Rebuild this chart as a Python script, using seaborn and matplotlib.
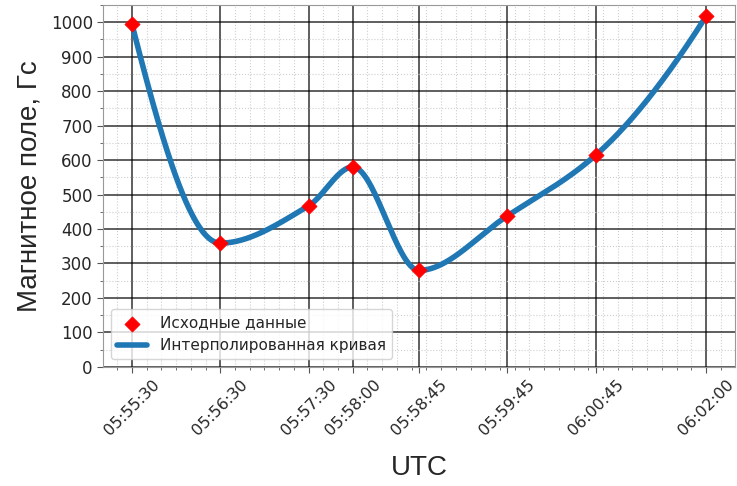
import numpy as np
import seaborn as sns
import matplotlib
matplotlib.use('Agg')
import matplotlib.pyplot as plt
from matplotlib.ticker import MultipleLocator

# Source data
times = ['05:55:30', '05:56:30', '05:57:30', '05:58:00', '05:58:45', '05:59:45', '06:00:45', '06:02:00']
field = [995, 359, 467, 580, 280, 438, 614, 1017]


def to_seconds(t):
    h, m, s = (int(v) for v in t.split(':'))
    return h * 3600 + m * 60 + s


# PCHIP (monotone piecewise cubic Hermite) through the source points
def pchip(x, y, xnew):
    x = np.asarray(x, float)
    y = np.asarray(y, float)
    h = np.diff(x)
    delta = np.diff(y) / h
    d = np.zeros_like(y)
    for k in range(1, len(x) - 1):
        if delta[k - 1] * delta[k] > 0:
            w1 = 2 * h[k] + h[k - 1]
            w2 = h[k] + 2 * h[k - 1]
            d[k] = (w1 + w2) / (w1 / delta[k - 1] + w2 / delta[k])

    def edge(h0, h1, m0, m1):
        dd = ((2 * h0 + h1) * m0 - h0 * m1) / (h0 + h1)
        if np.sign(dd) != np.sign(m0):
            dd = 0.0
        elif np.sign(m0) != np.sign(m1) and abs(dd) > abs(3 * m0):
            dd = 3 * m0
        return dd

    d[0] = edge(h[0], h[1], delta[0], delta[1])
    d[-1] = edge(h[-1], h[-2], delta[-1], delta[-2])

    idx = np.clip(np.searchsorted(x, xnew) - 1, 0, len(x) - 2)
    t = (xnew - x[idx]) / h[idx]
    h00 = 2 * t**3 - 3 * t**2 + 1
    h10 = t**3 - 2 * t**2 + t
    h01 = -2 * t**3 + 3 * t**2
    h11 = t**3 - t**2
    return h00 * y[idx] + h10 * h[idx] * d[idx] + h01 * y[idx + 1] + h11 * h[idx] * d[idx + 1]


secs = np.array([to_seconds(t) for t in times], float)
xs = secs - secs[0]
x_fine = np.linspace(xs[0], xs[-1], 500)
y_fine = pchip(xs, field, x_fine)

sns.set_style('white')
plt.rcParams['font.family'] = ['DejaVu Sans']

fig = plt.figure(figsize=(7.37, 4.86), dpi=100)
ax = fig.add_axes([0.140, 0.245, 0.857, 0.745])

sns.lineplot(x=x_fine, y=y_fine, ax=ax, color='#1f77b4', linewidth=4,
             label='Интерполированная кривая', zorder=3)
sns.scatterplot(x=xs, y=field, ax=ax, color='red', marker='D', s=60,
                edgecolor='red', linewidth=0.5, label='Исходные данные', zorder=4)

ax.set_xlim(xs[0] - 19.5, xs[-1] + 19.5)
ax.set_ylim(0, 1050)
ax.set_xticks(xs)
ax.set_xticklabels(times, rotation=45, fontsize=11.5)
ax.xaxis.set_minor_locator(MultipleLocator(10))
ax.yaxis.set_major_locator(MultipleLocator(100))
ax.yaxis.set_minor_locator(MultipleLocator(50))
ax.tick_params(axis='y', labelsize=12)
ax.tick_params(which='both', direction='out', color='#555555', bottom=True, left=True)
ax.tick_params(which='major', length=4)
ax.tick_params(which='minor', length=2)

ax.grid(which='major', color='black', linewidth=1.1, alpha=0.8)
ax.grid(which='minor', color='#cfcfcf', linestyle=':', linewidth=0.8)
ax.set_axisbelow(True)
for sp in ax.spines.values():
    sp.set_color('#999999')

ax.set_xlabel('UTC', fontsize=20, family='Liberation Sans', labelpad=12)
ax.set_ylabel('Магнитное поле, Гс', fontsize=20, family='Liberation Sans', labelpad=6)

handles, labels = ax.get_legend_handles_labels()
leg = ax.legend(handles[::-1], labels[::-1], loc='lower left', fontsize=11, frameon=True)

fig.savefig('out.png', dpi=100)
